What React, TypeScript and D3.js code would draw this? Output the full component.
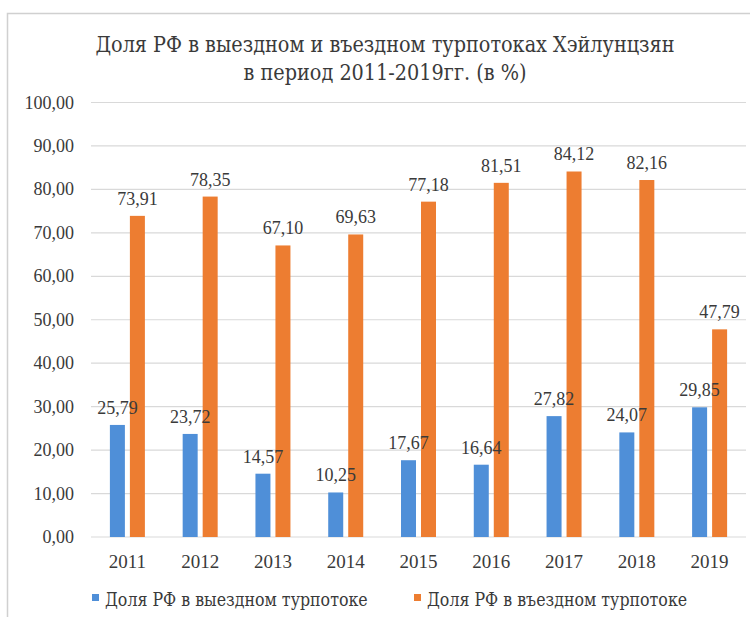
import React from "react";
import * as d3 from "d3";

const years = ["2011", "2012", "2013", "2014", "2015", "2016", "2017", "2018", "2019"];
const outbound = [25.79, 23.72, 14.57, 10.25, 17.67, 16.64, 27.82, 24.07, 29.85];
const inbound = [73.91, 78.35, 67.1, 69.63, 77.18, 81.51, 84.12, 82.16, 47.79];
const yTicks = [0, 10, 20, 30, 40, 50, 60, 70, 80, 90, 100];
const seriesNames = ["Доля РФ в выездном турпотоке", "Доля РФ в въездном турпотоке"];
const titleLines = ["Доля РФ в выездном и въездном турпотоках Хэйлунцзян", "в период 2011-2019гг. (в %)"];

const W = 750;
const H = 617;
const BLUE = "#4F8FD8";
const ORANGE = "#ED7D31";
const TEXT = "#3a3a3a";
const FONT = "Liberation Serif, serif";
const CYR = "DejaVu Serif, serif";

const fmt = (v: number) => d3.format(".2f")(v).replace(".", ",");

export default function App() {
  const x = d3.scaleBand<string>().domain(years).range([91, 746]).paddingInner(0).paddingOuter(0);
  const y = d3.scaleLinear().domain([0, 100]).range([537, 102.5]);
  const barW = 15;
  const gap = 5;
  const ts = { fontFamily: FONT };
  const cs = { fontFamily: CYR, fontStretch: "condensed" as const };
  const series = [
    { values: outbound, color: BLUE, offset: -gap / 2 - barW },
    { values: inbound, color: ORANGE, offset: gap / 2 },
  ];

  return (
    <svg
      width={W}
      height={H}
      style={{ position: "absolute", left: 0, top: 0, background: "#fff", fontFamily: FONT }}
    >
      <rect x={0} y={0} width={W} height={H} fill="#fff" />
      <rect x={7.5} y={13.5} width={760} height={640} fill="#fff" stroke="#d0d0d0" strokeWidth={1.5} />
      {titleLines.map((t, i) => (
        <text key={t} x={385} y={52 + i * 28} textAnchor="middle" fontSize={21.4} fill={TEXT} style={cs}>
          {t}
        </text>
      ))}
      {yTicks.map((t) => (
        <g key={t}>
          <line x1={91} x2={746} y1={y(t)} y2={y(t)} stroke="#d9d9d9" strokeWidth={1.2} />
          <text x={74} y={y(t) + 6} textAnchor="end" fontSize={18} fill={TEXT} style={ts}>
            {fmt(t)}
          </text>
        </g>
      ))}
      {series.map((s, si) =>
        years.map((yr, i) => {
          const cx = (x(yr) as number) + x.bandwidth() / 2;
          return (
            <rect
              key={`b${si}-${yr}`}
              x={cx + s.offset}
              y={y(s.values[i])}
              width={barW}
              height={y(0) - y(s.values[i])}
              fill={s.color}
            />
          );
        })
      )}
      {series.map((s, si) =>
        years.map((yr, i) => {
          const cx = (x(yr) as number) + x.bandwidth() / 2;
          return (
            <text
              key={`l${si}-${yr}`}
              x={cx + s.offset + barW / 2}
              y={y(s.values[i]) - 11}
              textAnchor="middle"
              fontSize={18}
              fill={TEXT}
              style={ts}
            >
              {fmt(s.values[i])}
            </text>
          );
        })
      )}
      {years.map((yr) => {
        const cx = (x(yr) as number) + x.bandwidth() / 2;
        return (
          <text key={yr} x={cx} y={568} textAnchor="middle" fontSize={19} fill={TEXT} style={ts}>
            {yr}
          </text>
        );
      })}
      {seriesNames.map((s, i) => {
        const lx = i === 0 ? 92 : 414;
        return (
          <g key={s}>
            <rect x={lx} y={594} width={7} height={7} fill={i === 0 ? BLUE : ORANGE} />
            <text x={lx + 13} y={606} fontSize={17.6} fill={TEXT} style={cs}>
              {s}
            </text>
          </g>
        );
      })}
    </svg>
  );
}
